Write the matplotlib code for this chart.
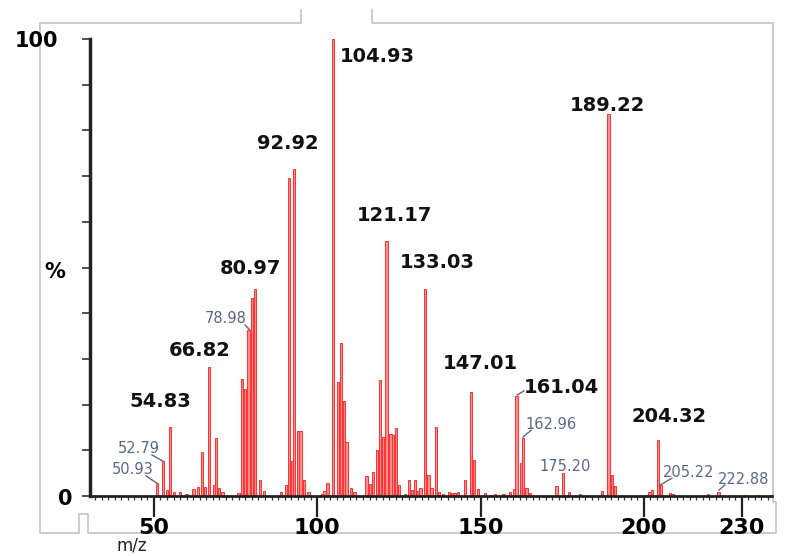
import matplotlib
matplotlib.use("Agg")
import matplotlib.pyplot as plt
from matplotlib.lines import Line2D
from matplotlib.ticker import MultipleLocator
import numpy as np

# peak list (m/z, relative intensity %)
mz = [50.93, 52.79, 54.1, 54.83, 56.2, 58.0, 60.0, 62.1, 63.4, 64.8, 65.6,
      66.82, 68.4, 69.0, 70.0, 71.0, 75.9, 76.9, 77.9, 78.98, 80.0, 80.97,
      82.5, 83.7, 88.9, 90.4, 91.35, 92.2, 92.92, 94.0, 94.9, 96.0, 97.3,
      101.5, 102.2, 103.1, 104.93, 106.25, 107.2, 108.1, 109.0, 110.35, 111.4,
      115.1, 116.2, 117.0, 118.3, 119.2, 120.2, 121.17, 122.4, 123.3, 124.1,
      125.1, 126.9, 128.2, 129.0, 129.9, 130.75, 131.6, 133.03, 134.1, 135.0,
      136.3, 137.3, 138.4, 140.3, 141.35, 142.2, 143.2, 145.3, 147.01, 148.0,
      149.3, 151.4, 154.4, 157.0, 159.0, 160.2, 161.04, 162.3, 162.96, 164.1,
      165.1, 173.3, 175.20, 177.1, 180.5, 187.1, 189.22, 190.3, 191.2, 200.9,
      201.7, 202.4, 204.32, 205.22, 208.0, 208.8, 219.7, 222.88, 231.0, 235.0]
intensity = [2.8, 7.6, 1.3, 15.0, 0.9, 0.9, 0.4, 1.5, 2.0, 9.7, 2.0,
             28.2, 2.4, 12.6, 1.8, 0.9, 0.6, 25.7, 23.5, 36.3, 43.3, 45.4,
             3.5, 1.0, 0.9, 2.5, 69.6, 7.7, 71.5, 14.3, 14.3, 3.6, 0.9,
             0.4, 1.1, 2.9, 100.0, 25.0, 33.4, 20.8, 11.9, 1.8, 0.9,
             4.4, 2.6, 5.3, 10.0, 25.4, 13.0, 55.8, 13.5, 13.3, 14.9,
             2.5, 0.5, 3.6, 1.3, 3.4, 1.1, 1.8, 45.4, 4.7, 1.8,
             15.2, 0.9, 0.5, 0.9, 0.6, 0.7, 0.9, 3.6, 22.8, 7.9,
             1.6, 0.6, 0.5, 0.5, 0.9, 1.5, 21.9, 7.2, 12.7, 1.8,
             0.6, 2.1, 5.0, 0.9, 0.5, 1.1, 83.6, 4.6, 2.2, 0.3,
             0.9, 1.3, 12.2, 2.4, 0.7, 0.5, 0.4, 0.8, 0.2, 0.2]

# bold peak labels: text, x, baseline y
main_labels = ["54.83", "66.82", "80.97", "92.92", "104.93", "121.17",
               "133.03", "147.01", "161.04", "189.22", "204.32"]
main_label_pos = [(51.85, 19.5), (64.1, 30.6), (79.4, 48.6), (91.0, 75.9),
                  (118.3, 95.0), (123.8, 60.2), (136.7, 49.9), (150.1, 27.8),
                  (174.9, 22.5), (189.0, 84.25), (207.7, 16.2)]

# small labels with leader lines
minor_labels = ["50.93", "52.79", "78.98", "162.96", "175.20", "205.22", "222.88"]
minor_label_pos = [(43.6, 4.8), (45.4, 9.4), (71.9, 37.9), (171.7, 14.7),
                   (175.8, 5.5), (213.8, 4.2), (222.7, 2.6)]
minor_label_ha = ["center", "center", "center", "center", "center", "center", "left"]
leaders = [((47.6, 4.4), (50.9, 2.8)), ((49.4, 9.0), (52.8, 7.6)),
           ((77.9, 37.4), (79.4, 36.3)), ((161.2, 22.1), (163.3, 23.0)),
           ((163.0, 12.9), (165.5, 14.4)), ((205.0, 2.4), (208.6, 3.9)),
           ((223.0, 1.3), (224.8, 2.4))]

x_ticks = [50, 100, 150, 200, 230]

W, H = 792, 556
fig = plt.figure(figsize=(W / 100, H / 100), dpi=100)
ax = fig.add_axes([90 / W, 60 / H, 682 / W, 457 / H])

ax.bar(mz, intensity, width=0.7, color="#ff8f8f", edgecolor="#ff3030",
       linewidth=0.7, zorder=2)

ax.set_xlim(30.42, 239.24)
ax.set_ylim(0, 100)

for side in ["top", "right"]:
    ax.spines[side].set_visible(False)
ax.spines["left"].set_linewidth(2.5)
ax.spines["bottom"].set_linewidth(2)
ax.spines["left"].set_color("#222222")
ax.spines["bottom"].set_color("#222222")

ax.set_xticks(x_ticks)
ax.set_xticklabels([str(t) for t in x_ticks], fontsize=16, fontweight="bold")
ax.xaxis.set_minor_locator(MultipleLocator(2))
ax.tick_params(axis="x", which="major", length=15, width=1.6, color="#222222", pad=1)
ax.tick_params(axis="x", which="minor", length=3, width=0.9, color="#333333")
ax.set_yticks(np.arange(0, 101, 10))
ax.set_yticklabels([])
ax.tick_params(axis="y", length=6, width=1.2, color="#333333")

# y labels placed like the instrument software does
ytrans = ax.get_yaxis_transform()
ax.text(-0.047, 98.25, "100", transform=ytrans, ha="right", va="baseline",
        fontsize=15, fontweight="bold", clip_on=False)
ax.text(-0.052, 47.7, "%", transform=ytrans, ha="center", va="baseline",
        fontsize=15, fontweight="bold", clip_on=False)
ax.text(-0.037, -2.0, "0", transform=ytrans, ha="center", va="baseline",
        fontsize=15, fontweight="bold", clip_on=False)
fig.text(132 / W, 1 - 546 / H, "m/z", ha="center", va="center", fontsize=12,
         color="#222222")

for txt, (x, y) in zip(main_labels, main_label_pos):
    ax.text(x, y, txt, ha="center", va="baseline", fontsize=14,
            fontweight="bold", color="#111111", zorder=3)

for txt, (x, y), ha in zip(minor_labels, minor_label_pos, minor_label_ha):
    ax.text(x, y, txt, ha=ha, va="baseline", fontsize=10.5, color="#56698a",
            zorder=3, clip_on=True)

for (x0, y0), (x1, y1) in leaders:
    ax.plot([x0, x1], [y0, y1], color="#666666", linewidth=1, zorder=3)

# grey screenshot frame around the plot
frame = [(301, 10), (301, 23), (40, 23), (40, 533), (79, 533), (79, 514),
         (88, 514), (88, 533), (776, 533), (776, 502), (773, 502), (773, 23),
         (372, 23), (372, 10)]
fx = [p[0] / W for p in frame]
fy = [1 - p[1] / H for p in frame]
fig.add_artist(Line2D(fx, fy, color="#c4c4c4", linewidth=1.2, zorder=0))

fig.savefig("out.png", dpi=100)
